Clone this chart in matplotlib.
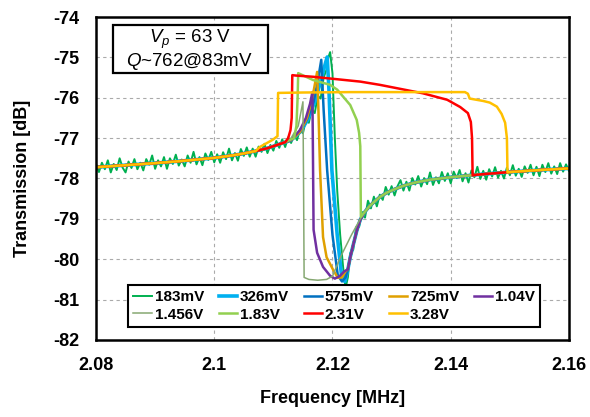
import numpy as np
import matplotlib
matplotlib.use("Agg")
import matplotlib.pyplot as plt
from matplotlib.patches import Rectangle

plt.rcParams['font.family'] = ['Liberation Sans', 'DejaVu Sans']
plt.rcParams['mathtext.fontset'] = 'custom'
plt.rcParams['mathtext.it'] = 'Liberation Sans:italic'
plt.rcParams['mathtext.rm'] = 'Liberation Sans'
plt.rcParams['axes.unicode_minus'] = False

# ---- data (frequency in MHz, transmission in dB) ----
labels = ["183mV", "326mV", "575mV", "725mV", "1.04V",
          "1.456V", "1.83V", "2.31V", "3.28V"]
colors = ["#00B050", "#00B0F0", "#0070C0", "#E0A000", "#7030A0",
          "#86A872", "#92D050", "#FF0000", "#FFC000"]

# shared off-resonance baseline
left_f = [2.080, 2.085, 2.090, 2.095, 2.100, 2.103, 2.105, 2.107, 2.109, 2.110, 2.111, 2.112]
left_db = [-77.72, -77.67, -77.62, -77.56, -77.49, -77.43, -77.38, -77.32, -77.25, -77.20, -77.15, -77.10]
right_f = [2.1226, 2.1230, 2.1235, 2.1241, 2.1247, 2.1255, 2.1263, 2.1272, 2.1280, 2.1292,
           2.1306, 2.1320, 2.1340, 2.1365, 2.1399, 2.1449, 2.1500, 2.1551, 2.1600]
right_db = [-80.25, -79.95, -79.65, -79.30, -79.02, -78.82, -78.68, -78.56, -78.46, -78.35,
            -78.26, -78.18, -78.10, -78.03, -77.97, -77.90, -77.84, -77.79, -77.75]

# 183mV trace (noisy), measured points
g_left_db = [-77.64, -77.84, -77.61, -77.77, -77.55, -77.85, -77.64, -77.79, -77.50, -77.73,
             -77.85, -77.58, -77.74, -77.52, -77.77, -77.61, -77.80, -77.52, -77.66, -77.43,
             -77.76, -77.55, -77.70, -77.47, -77.76, -77.50, -77.64, -77.41, -77.68, -77.53,
             -77.70, -77.43, -77.61, -77.34, -77.65, -77.47, -77.67, -77.38, -77.54, -77.34,
             -77.60, -77.40, -77.61, -77.35, -77.52, -77.26, -77.55, -77.37, -77.56, -77.27,
             -77.44, -77.23, -77.46, -77.26, -77.46, -77.21, -77.34, -77.14, -77.37, -77.17,
             -77.31, -77.07, -77.24, -77.03, -77.22, -76.98, -77.12]
g_mid_f = [2.1135, 2.1140, 2.1145, 2.1150, 2.1155, 2.1160, 2.1165, 2.1170, 2.1175, 2.1180,
           2.1185, 2.1190, 2.1193, 2.1196, 2.1200, 2.1204, 2.1208, 2.1213, 2.1218, 2.1222, 2.1226]
g_mid_db = [-76.92, -77.05, -76.78, -76.88, -76.55, -76.62, -76.28, -76.38, -75.95, -76.02,
            -75.50, -75.30, -75.00, -74.87, -75.40, -77.00, -78.30, -79.40, -80.20, -80.72, -80.45]
g_right_db = [-79.85, -79.77, -79.20, -79.20, -78.83, -78.97, -78.55, -78.74, -78.45, -78.69,
              -78.40, -78.53, -78.21, -78.40, -78.19, -78.42, -78.19, -78.04, -78.30, -78.08,
              -78.30, -77.99, -78.15, -77.94, -78.20, -77.99, -78.14, -77.85, -78.16, -77.97,
              -78.12, -77.84, -78.06, -77.87, -78.12, -77.83, -77.99, -77.79, -78.07, -77.87,
              -78.10, -77.80, -77.97, -77.71, -78.01, -77.81, -78.03, -77.77, -77.95, -77.72,
              -77.98, -77.81, -78.00, -77.73, -77.92, -77.67, -77.93, -77.76, -77.96, -77.70,
              -77.86, -77.66, -77.92, -77.71, -77.94, -77.66, -77.84, -77.62, -77.88, -77.70,
              -77.89, -77.62, -77.83, -77.65, -77.81]

# resonance segments of the other drive levels
mid_f = {
    "326mV": [2.1130, 2.1145, 2.1158, 2.1170, 2.1180, 2.1187, 2.1191, 2.1194, 2.1199, 2.1208, 2.1216, 2.1221],
    "575mV": [2.1130, 2.1145, 2.1158, 2.1168, 2.1175, 2.1181, 2.1185, 2.1191, 2.1200, 2.1209, 2.1216, 2.1222],
    "725mV": [2.1130, 2.1145, 2.1157, 2.1166, 2.1174, 2.1176, 2.1179, 2.1184, 2.1190, 2.1201, 2.1209, 2.1216, 2.1222],
    "1.04V": [2.1130, 2.1145, 2.1155, 2.1162, 2.1166, 2.1167, 2.1168, 2.1174, 2.1184, 2.1196, 2.1204, 2.1212, 2.1220],
    "1.456V": [2.1130, 2.1142, 2.1150, 2.1151, 2.1152, 2.1160, 2.1175, 2.1190, 2.1200, 2.1215, 2.1232, 2.1247],
    "1.83V": [2.1135, 2.1139, 2.1141, 2.1142, 2.1167, 2.1196, 2.1208, 2.1230, 2.1241, 2.1245, 2.1247, 2.1248],
    "2.31V": [2.1125, 2.1129, 2.1131, 2.1132, 2.1138, 2.1167, 2.1247, 2.1280, 2.1353, 2.1394,
              2.1416, 2.1429, 2.1434, 2.1436, 2.1437],
    "3.28V": [2.1077, 2.1099, 2.1107, 2.1108, 2.1150, 2.1230, 2.1424, 2.1429, 2.1432, 2.1455,
              2.1466, 2.1478, 2.1486, 2.1492, 2.1495, 2.1496],
}
mid_db = {
    "326mV": [-77.05, -76.85, -76.55, -76.10, -75.60, -75.20, -74.99, -75.80, -77.80, -79.40, -80.50, -80.55],
    "575mV": [-77.05, -76.85, -76.50, -76.10, -75.60, -75.06, -76.30, -77.80, -79.40, -80.40, -80.55, -80.45],
    "725mV": [-77.05, -76.85, -76.50, -76.00, -75.36, -76.20, -77.80, -79.45, -79.95, -80.26, -80.46, -80.45, -80.30],
    "1.04V": [-77.05, -76.80, -76.50, -76.15, -75.86, -77.50, -79.27, -79.84, -80.19, -80.41, -80.48, -80.42, -80.30],
    "1.456V": [-77.00, -76.70, -76.10, -78.00, -80.45, -80.50, -80.52, -80.50, -80.42, -79.90, -79.40, -79.00],
    "1.83V": [-77.00, -76.70, -76.00, -75.39, -75.56, -75.68, -75.80, -76.18, -76.55, -76.87, -77.20, -78.95],
    "2.31V": [-77.00, -76.80, -76.50, -75.44, -75.45, -75.48, -75.60, -75.68, -75.89, -76.05,
              -76.23, -76.38, -76.60, -77.00, -77.92],
    "3.28V": [-77.22, -77.04, -76.95, -75.88, -75.87, -75.86, -75.86, -75.90, -76.02, -76.08,
              -76.12, -76.22, -76.40, -76.62, -77.00, -77.85],
}


def build_trace(name):
    mf, md = mid_f[name], mid_db[name]
    f = [x for x in left_f if x < mf[0]]
    d = [y for x, y in zip(left_f, left_db) if x < mf[0]]
    f += mf
    d += md
    f += [x for x in right_f if x > mf[-1]]
    d += [y for x, y in zip(right_f, right_db) if x > mf[-1]]
    return f, d


fig = plt.figure(figsize=(5.9, 4.17), dpi=100)
ax = fig.add_axes([0.1627, 0.1847, 0.8017, 0.7745])

handles = []
# 183mV noisy trace
gf = list(np.linspace(2.080, 2.113, len(g_left_db))) + g_mid_f + list(np.linspace(2.123, 2.160, len(g_right_db)))
gd = g_left_db + g_mid_db + g_right_db
h, = ax.plot(gf, gd, color=colors[0], lw=1.4, label=labels[0])
handles.append(h)

for name, col in zip(labels[1:], colors[1:]):
    f, d = build_trace(name)
    lw = 1.8
    if name == "326mV":
        lw = 2.6
    if name == "1.456V":
        lw = 1.1
    h, = ax.plot(f, d, color=col, lw=lw, label=name)
    handles.append(h)

ax.set_xlim(2.08, 2.16)
ax.set_ylim(-82, -74)
ax.set_xticks([2.08, 2.10, 2.12, 2.14, 2.16])
ax.set_xticklabels(["2.08", "2.1", "2.12", "2.14", "2.16"])
ax.set_yticks(range(-82, -73))
ax.grid(True, color="#AAAAAA", linestyle=(0, (3, 3)), lw=0.8)
ax.set_axisbelow(True)
ax.tick_params(length=0, pad=12, labelsize=13)
for lab in ax.get_xticklabels() + ax.get_yticklabels():
    lab.set_fontweight("bold")
for s in ax.spines.values():
    s.set_linewidth(1.8)

ax.set_xlabel("Frequency [MHz]", fontsize=13, fontweight="bold", labelpad=12)
ax.set_ylabel("Transmission [dB]", fontsize=13, fontweight="bold", labelpad=16)

# annotation box
ax.add_patch(Rectangle((0.036, 0.827), 0.328, 0.148, transform=ax.transAxes,
                       facecolor="white", edgecolor="black", lw=1.6, zorder=5))
ax.text(0.198, 0.932, r"$\mathit{V}_{\mathit{p}}$ = 63 V", transform=ax.transAxes,
        ha="center", va="center", fontsize=13.5, zorder=6)
ax.text(0.198, 0.862, r"$\mathit{Q}$~762@83mV", transform=ax.transAxes,
        ha="center", va="center", fontsize=13.5, zorder=6)

order = [0, 5, 1, 6, 2, 7, 3, 8, 4]
leg = ax.legend([handles[i] for i in order], [labels[i] for i in order], ncol=5,
                loc="lower left", bbox_to_anchor=(0.0677, 0.040),
                prop={"weight": "bold", "size": 11}, handlelength=1.2,
                handletextpad=0.2, columnspacing=0.95, borderpad=0.35,
                labelspacing=0.25, fancybox=False, framealpha=1, borderaxespad=0)
leg.get_frame().set_edgecolor("black")
leg.get_frame().set_linewidth(1.5)

fig.savefig("out.png", dpi=100)
